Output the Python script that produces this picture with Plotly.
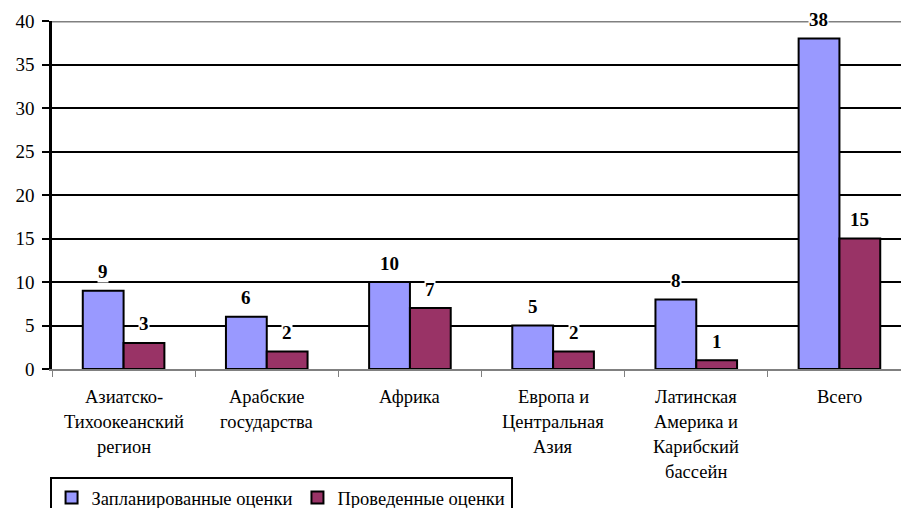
import plotly.graph_objects as go

categories = ["Азиатско-Тихоокеанский регион", "Арабские государства", "Африка",
              "Европа и Центральная Азия", "Латинская Америка и Карибский бассейн", "Всего"]
category_lines = [["Азиатско-", "Тихоокеанский", "регион"], ["Арабские", "государства"], ["Африка"],
                  ["Европа и", "Центральная", "Азия"], ["Латинская", "Америка и", "Карибский", "бассейн"], ["Всего"]]
planned = [9, 6, 10, 5, 8, 38]
conducted = [3, 2, 7, 2, 1, 15]
series_names = ["Запланированные оценки", "Проведенные оценки"]
y_ticks = [0, 5, 10, 15, 20, 25, 30, 35, 40]

FONT = "Tinos, Liberation Serif, serif"
fig = go.Figure()
for vals, name, color in [(planned, series_names[0], "#9999FF"), (conducted, series_names[1], "#993366")]:
    fig.add_trace(go.Bar(
        x=categories, y=vals, name=name,
        marker=dict(color=color, line=dict(color="black", width=2)),
    ))

annotations = []
# data labels
for vals, shift in [(planned, -20.5), (conducted, 20.5)]:
    for c, v in zip(categories, vals):
        annotations.append(dict(x=c, y=v, xref="x", yref="y", text=f"<b>{v}</b>", showarrow=False,
                                xshift=shift, yshift=19, yanchor="middle", bgcolor="white",
                                borderpad=0, font=dict(family=FONT, size=19, color="black")))
# category labels
for c, lines in zip(categories, category_lines):
    for i, line in enumerate(lines):
        annotations.append(dict(x=c, y=0, xref="x", yref="y", text=line, showarrow=False,
                                yshift=-(28 + 25 * i), yanchor="middle",
                                font=dict(family=FONT, size=18.5, color="black")))

fig.update_layout(
    width=901, height=508,
    margin=dict(l=52, r=0, t=21, b=139),
    paper_bgcolor="white", plot_bgcolor="white",
    barmode="group", bargap=0.43, bargroupgap=0,
    font=dict(family=FONT, size=18, color="black"),
    showlegend=True,
    legend=dict(orientation="h", x=0.055, y=0.061, xref="container", yref="container",
                xanchor="left", yanchor="top",
                bordercolor="black", borderwidth=2, font=dict(family=FONT, size=18.5, color="black"),
                itemwidth=30, tracegroupgap=0),
    annotations=annotations,
    shapes=[dict(type="line", xref="paper", yref="y", x0=0, x1=1, y0=40, y1=40,
                 line=dict(color="#808080", width=3), layer="above")],
)
fig.update_xaxes(range=[-0.5, 5.43], tickson="boundaries", ticks="outside", ticklen=6,
                 tickcolor="#808080", showline=True, linecolor="#808080", linewidth=1.5,
                 showgrid=False, showticklabels=False, automargin=False)
fig.update_yaxes(range=[0, 40], tickvals=y_ticks, showgrid=True, gridcolor="black", gridwidth=2,
                 zeroline=False, showline=True, linecolor="black", linewidth=2.5,
                 ticks="outside", ticklen=7, tickwidth=2, tickcolor="black", automargin=False,
                 ticklabelstandoff=4, tickfont=dict(family=FONT, size=19, color="black"))

fig.write_html("out.html")
